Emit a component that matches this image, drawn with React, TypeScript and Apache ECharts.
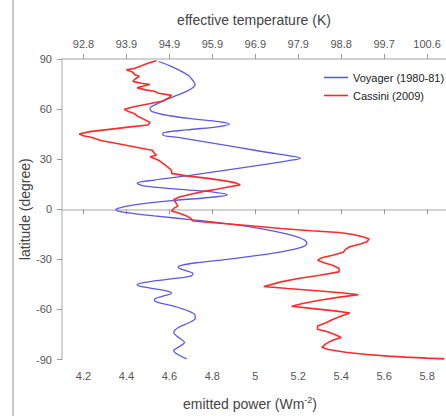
import React, { useEffect, useRef } from "react";
import * as echarts from "echarts";

const powerTicks = [4.2, 4.4, 4.6, 4.8, 5.0, 5.2, 5.4, 5.6, 5.8];
const powerTickLabels = ["4.2", "4.4", "4.6", "4.8", "5", "5.2", "5.4", "5.6", "5.8"];
const tempTickLabels = ["92.8", "93.9", "94.9", "95.9", "96.9", "97.9", "98.8", "99.7", "100.6"];

const voyagerLat = [
  88.5, 86, 83, 80, 77, 74.7, 72, 69, 66, 63, 60.5, 58.5, 56, 54, 52.5, 51, 49.5, 47.5, 45.5, 44.5,
  43, 40, 37, 34, 32, 30.5, 29, 26, 23, 20, 17.5, 15.6, 14, 12, 10, 8.7, 7.5, 5, 2.5, 0.5,
  -0.5, -2, -4, -6.5, -9.7, -13, -16, -18.5, -20.5, -23, -25.5, -27.5, -30, -32, -33.5, -34.8, -36.5, -38.5, -40, -42,
  -44, -45.3, -47, -49, -50.3, -52, -54, -55.5, -58, -61, -63.5, -65.5, -68, -71, -73.9, -76.5, -79.8, -82, -84.7, -87, -89.6,
];
const voyagerPower = [
  4.55, 4.6, 4.65, 4.69, 4.71, 4.72, 4.7, 4.65, 4.59, 4.54, 4.51, 4.52, 4.6, 4.72, 4.83, 4.88, 4.83, 4.68, 4.57, 4.57,
  4.64, 4.78, 4.92, 5.06, 5.16, 5.21, 5.15, 5.0, 4.84, 4.68, 4.53, 4.45, 4.48, 4.64, 4.82, 4.87, 4.82, 4.6, 4.43, 4.36,
  4.35, 4.4, 4.53, 4.72, 4.93, 5.08, 5.18, 5.23, 5.24, 5.21, 5.12, 5.02, 4.87, 4.73, 4.66, 4.64, 4.67, 4.71, 4.7, 4.59,
  4.48, 4.45, 4.5, 4.59, 4.61, 4.57, 4.53, 4.54, 4.62, 4.69, 4.72, 4.72, 4.69, 4.64, 4.62, 4.64, 4.67, 4.65, 4.62, 4.64, 4.68,
];

const cassiniLat = [
  89, 87.5, 86, 84.5, 83.5, 82, 80.5, 79.6, 78, 76.6, 75.5, 74.7, 73.5, 72.7, 71.5, 70.7, 69.5, 68.2, 67, 64.8,
  63, 61.5, 59.9, 58.5, 57, 55.9, 54, 52, 50.5, 49.5, 48, 46.5, 45.1, 44, 43, 41.2, 39.5, 38, 36.5, 35.3,
  33.5, 32.3, 31.4, 29.4, 27.5, 25.5, 24.5, 23, 21.5, 20, 18.5, 17, 15.8, 14.6, 13.5, 12, 10.7, 9, 7.5, 5.8,
  4, 1.9, 0.5, -1.1, -2.5, -4, -5.5, -7, -8.5, -10, -11.5, -12.9, -13.9, -15, -16.5, -17.8, -19.5, -20.8, -22.5, -24,
  -25.7, -27.5, -29, -30.6, -32, -33.5, -35.5, -37.5, -39.5, -41.5, -43.5, -46.3, -47.5, -49, -50, -51.2, -52.5, -54.5, -56.5, -58.1,
  -59.5, -61, -62.1, -64, -66, -68, -70, -71.9, -73.5, -75, -76.8, -78.5, -80.5, -82.7, -84, -85.7, -87, -88, -88.6, -89.2, -89.6,
];
const cassiniPower = [
  4.54, 4.5, 4.47, 4.44, 4.4, 4.43, 4.44, 4.46, 4.44, 4.43, 4.47, 4.51, 4.47, 4.45, 4.49, 4.53, 4.55, 4.61, 4.6, 4.57,
  4.5, 4.44, 4.39, 4.41, 4.44, 4.45, 4.48, 4.51, 4.5, 4.43, 4.33, 4.23, 4.18, 4.2, 4.24, 4.28, 4.35, 4.41, 4.47, 4.52,
  4.53, 4.54, 4.51, 4.55, 4.57, 4.59, 4.6, 4.61, 4.61, 4.68, 4.78, 4.86, 4.91, 4.93, 4.88, 4.82, 4.76, 4.7, 4.65, 4.62,
  4.63, 4.64, 4.62, 4.61, 4.65, 4.68, 4.7, 4.71, 4.85, 4.99, 5.12, 5.26, 5.39, 5.45, 5.5, 5.53, 5.52, 5.49, 5.44, 5.42,
  5.41, 5.36, 5.31, 5.29, 5.32, 5.36, 5.39, 5.39, 5.3, 5.2, 5.12, 5.04, 5.15, 5.3, 5.4, 5.48, 5.4, 5.3, 5.22, 5.17,
  5.27, 5.38, 5.44, 5.4, 5.36, 5.33, 5.29, 5.29, 5.34, 5.37, 5.4, 5.36, 5.33, 5.31, 5.34, 5.42, 5.52, 5.62, 5.7, 5.8, 5.88,
];

const latTicksMin = -90;
const latTicksMax = 90;
const latInterval = 30;

const FONT = "'Liberation Sans', Arial, sans-serif";
const AXIS_GRAY = "#c4c4c4";
const LABEL_GRAY = "#555";

function tickIndex(v: number) {
  return powerTicks.findIndex((t) => Math.abs(t - v) < 1e-6);
}

export default function App() {
  const ref = useRef<HTMLDivElement>(null);
  useEffect(() => {
    document.body.style.margin = "0";
    if (!ref.current) return;
    const chart = echarts.init(ref.current, undefined, { renderer: "svg" });
    const xCommon = {
      type: "value" as const,
      min: 4.1,
      max: 5.888,
      splitLine: { show: false },
      nameMoveOverlap: false,
      axisLine: { show: true, lineStyle: { color: AXIS_GRAY, width: 1.5 } },
      axisTick: { show: true, inside: false, length: 5, customValues: powerTicks, lineStyle: { color: "#999" } },
    };
    chart.setOption({
      animation: false,
      backgroundColor: "#fff",
      textStyle: { fontFamily: FONT },
      grid: { left: 62, right: 0, top: 59, bottom: 52 },
      legend: {
        orient: "vertical",
        left: 319,
        top: 67,
        icon: "rect",
        itemWidth: 24,
        itemHeight: 1.6,
        itemGap: 7,
        textStyle: { fontFamily: FONT, fontSize: 11, color: "#222" },
        data: ["Voyager (1980-81)", "Cassini (2009)"],
      },
      graphic: [
        {
          type: "line",
          shape: { x1: 13, y1: 0, x2: 13, y2: 416 },
          style: { stroke: "#c8c8c8", lineWidth: 2 },
        },
      ],
      xAxis: [
        {
          ...xCommon,
          position: "bottom",
          name: "emitted power (Wm{sup|-2})",
          nameLocation: "middle",
          nameGap: 36,
          nameTextStyle: {
            fontFamily: FONT,
            fontSize: 14,
            color: "#444",
            align: "center",
            padding: [0, 8, 0, 0],
            rich: { sup: { fontSize: 9, verticalAlign: "top", padding: [0, 0, 8, 0], color: "#444" } },
          },
          axisLabel: {
            customValues: powerTicks,
            margin: 11,
            fontSize: 11,
            color: LABEL_GRAY,
            fontFamily: FONT,
            formatter: (v: number) => {
              const i = tickIndex(v);
              return i >= 0 ? powerTickLabels[i] : "";
            },
          },
        },
        {
          ...xCommon,
          position: "top",
          name: "effective temperature (K)",
          nameLocation: "middle",
          nameGap: 32,
          nameTextStyle: { fontFamily: FONT, fontSize: 14, color: "#444" },
          axisLabel: {
            customValues: powerTicks,
            margin: 10,
            fontSize: 11,
            color: LABEL_GRAY,
            fontFamily: FONT,
            formatter: (v: number) => {
              const i = tickIndex(v);
              return i >= 0 ? tempTickLabels[i] : "";
            },
          },
        },
      ],
      yAxis: {
        type: "value",
        min: latTicksMin,
        max: latTicksMax,
        interval: latInterval,
        name: "latitude (degree)",
        nameLocation: "middle",
        nameGap: 30,
        nameMoveOverlap: false,
        nameTextStyle: { fontFamily: FONT, fontSize: 14, color: "#444" },
        splitLine: { show: false },
        axisLine: { show: true, lineStyle: { color: AXIS_GRAY, width: 1.5 } },
        axisTick: { show: true, inside: false, length: 5, lineStyle: { color: "#999" } },
        axisLabel: { margin: 10, fontSize: 11, color: LABEL_GRAY, fontFamily: FONT },
      },
      series: [
        {
          name: "Voyager (1980-81)",
          type: "line",
          xAxisIndex: 0,
          yAxisIndex: 0,
          symbol: "none",
          smooth: 0.35,
          lineStyle: { color: "#5a5ae6", width: 1.3 },
          itemStyle: { color: "#5a5ae6" },
          data: voyagerLat.map((lat, i) => [voyagerPower[i], lat]),
        },
        {
          name: "Cassini (2009)",
          type: "line",
          xAxisIndex: 0,
          yAxisIndex: 0,
          symbol: "none",
          lineStyle: { color: "#ff2a2a", width: 1.6 },
          itemStyle: { color: "#ff2a2a" },
          data: cassiniLat.map((lat, i) => [cassiniPower[i], lat]),
        },
      ],
    });
    return () => chart.dispose();
  }, []);
  return <div ref={ref} style={{ width: 446, height: 416 }} />;
}
